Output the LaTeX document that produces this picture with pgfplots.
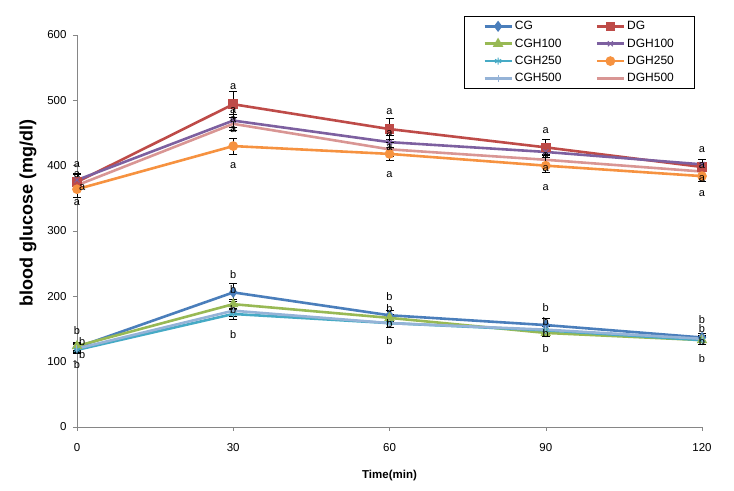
\documentclass[border=0pt]{standalone}
\usepackage{fontspec}
\setmainfont{Liberation Sans}
\usepackage{pgfplots}
\pgfplotsset{compat=1.18}
\usetikzlibrary{plotmarks}
\definecolor{cCG}{HTML}{4A7EBB}
\definecolor{cDG}{HTML}{BE4B48}
\definecolor{cCGH100}{HTML}{98B954}
\definecolor{cDGH100}{HTML}{7D60A0}
\definecolor{cCGH250}{HTML}{46AAC5}
\definecolor{cDGH250}{HTML}{F69240}
\definecolor{cCGH500}{HTML}{95B3D7}
\definecolor{cDGH500}{HTML}{D99694}
\definecolor{axgray}{HTML}{868686}
\begin{document}
\begin{tikzpicture}
\begin{axis}[
  scale only axis, width=625pt, height=392pt,
  xmin=0, xmax=120, ymin=0, ymax=600,
  xtick={0,30,60,90,120}, ytick={0,100,...,600},
  axis x line=bottom, axis y line=left,
  axis line style={axgray, -},
  tick style={axgray, thin},
  tick align=outside, major tick length=4pt,
  x tick label style={font=\fontsize{11.5}{13}\selectfont, yshift=-9pt},
  y tick label style={font=\fontsize{11.5}{13}\selectfont, xshift=-3pt},
  /pgf/number format/assume math mode=true,
  xlabel={\textbf{Time(min)}}, xlabel style={font=\fontsize{11.5}{13}\selectfont, yshift=-12pt},
  ylabel={\textbf{blood glucose (mg/dl)}}, ylabel style={font=\fontsize{18}{20}\selectfont, xshift=18pt, yshift=4pt},
  every axis plot/.append style={line width=2.6pt, mark size=3.5pt},
  error bars/error bar style={black, line width=0.7pt},
  error bars/error mark options={rotate=90, mark size=4pt, black, line width=0.7pt},
  legend columns=2,
  legend cell align=left,
  legend image code/.code={\draw[mark repeat=2,mark phase=2] plot coordinates {(0pt,0pt)(13.5pt,0pt)(27pt,0pt)};},
  legend style={at={(0.619,1.0485)}, anchor=north west, draw=black, line width=0.8pt,
    font=\fontsize{12}{14}\selectfont, inner xsep=19pt, inner ysep=3pt,
    row sep=3.5pt,
    /tikz/every even column/.append style={column sep=32pt}},
  clip=false,
]
% CG
\addplot[cCG, mark=diamond*, error bars/.cd, y dir=both, y explicit] coordinates {
 (0,122) +- (0,6) (30,206) +- (0,14) (60,171) +- (0,8) (90,156) +- (0,10) (120,137) +- (0,6)};
\addlegendentry{CG}
% DG
\addplot[cDG, mark=square*, error bars/.cd, y dir=both, y explicit] coordinates {
 (0,375) +- (0,12) (30,494) +- (0,20) (60,456) +- (0,16) (90,428) +- (0,12) (120,398) +- (0,12)};
\addlegendentry{DG}
% CGH100
\addplot[cCGH100, mark=triangle*, error bars/.cd, y dir=both, y explicit] coordinates {
 (0,124) +- (0,6) (30,188) +- (0,8) (60,167) +- (0,6) (90,144) +- (0,6) (120,133) +- (0,6)};
\addlegendentry{CGH100}
% DGH100
\addplot[cDGH100, mark=x, mark options={line width=1pt}, error bars/.cd, y dir=both, y explicit] coordinates {
 (0,378) +- (0,10) (30,469) +- (0,10) (60,436) +- (0,10) (90,421) +- (0,8) (120,402) +- (0,8)};
\addlegendentry{DGH100}
% CGH250
\addplot[cCGH250, mark=asterisk, mark options={line width=1pt}, error bars/.cd, y dir=both, y explicit] coordinates {
 (0,118) +- (0,6) (30,173) +- (0,8) (60,159) +- (0,6) (90,148) +- (0,6) (120,133) +- (0,6)};
\addlegendentry{CGH250}
% DGH250
\addplot[cDGH250, mark=*, error bars/.cd, y dir=both, y explicit] coordinates {
 (0,364) +- (0,12) (30,430) +- (0,12) (60,418) +- (0,10) (90,400) +- (0,10) (120,384) +- (0,8)};
\addlegendentry{DGH250}
% CGH500
\addplot[cCGH500, mark=|, mark options={line width=1pt}, error bars/.cd, y dir=both, y explicit] coordinates {
 (0,120) +- (0,6) (30,178) +- (0,8) (60,159) +- (0,6) (90,149) +- (0,6) (120,135) +- (0,6)};
\addlegendentry{CGH500}
% DGH500
\addplot[cDGH500, no marks, error bars/.cd, y dir=both, y explicit] coordinates {
 (0,370) +- (0,10) (30,464) +- (0,10) (60,425) +- (0,10) (90,409) +- (0,8) (120,391) +- (0,8)};
\addlegendentry{DGH500}
% significance letters
\addplot[forget plot, only marks, mark=none, nodes near coords, point meta=explicit symbolic,
  nodes near coords style={anchor=center, font=\fontsize{11}{13}\selectfont, black, inner sep=0pt}]
 table[meta=l] {
x y l
0 401 a
0 386 a
1 366 a
0 343 a
30 521 a
30 485 a
30 470 a
30 455 a
30 400 a
60 483 a
60 449 a
60 427 a
60 387 a
90 454 a
90 415 a
90 395 a
90 366 a
120 425 a
120 400 a
120 380 a
120 358 a
0 148 b
1 131 b
1 111 b
0 95 b
30 233 b
30 210 b
30 179 b
30 142 b
60 200 b
60 182 b
60 159 b
60 132 b
90 183 b
90 161 b
90 143 b
90 120 b
120 165 b
120 150 b
120 131 b
120 105 b
};
\end{axis}
\pgfresetboundingbox
\path (current axis.south west) ++(-77pt,-64pt) rectangle ([shift={(32pt,35pt)}]current axis.north east);
\end{tikzpicture}
\end{document}
